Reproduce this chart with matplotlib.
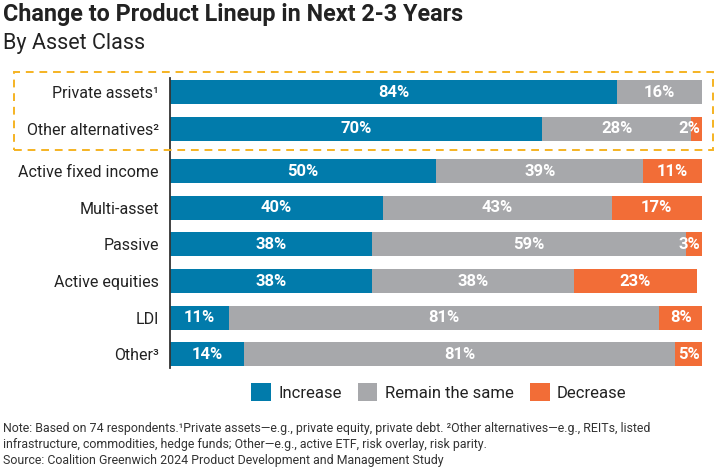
import matplotlib
matplotlib.use("Agg")
import matplotlib.pyplot as plt
from matplotlib.patches import Patch, Rectangle

plt.rcParams["font.family"] = ["Roboto", "DejaVu Sans"]

# data
categories = ["Private assets¹", "Other alternatives²", "Active fixed income",
              "Multi-asset", "Passive", "Active equities", "LDI", "Other³"]
increase = [84, 70, 50, 40, 38, 38, 11, 14]
remain = [16, 28, 39, 43, 59, 38, 81, 81]
decrease = [0, 2, 11, 17, 3, 23, 8, 5]
series_names = ["Increase", "Remain the same", "Decrease"]

BLUE = "#017bab"
GRAY = "#a7a8ab"
ORANGE = "#f26d37"
BOX = "#f5b323"

W, H = 720, 473
fig = plt.figure(figsize=(W / 100, H / 100), dpi=100)

# axes in pixel terms: x 0..100 -> 170..702, rows every 36.6px from y=92
row_px, first_px = 36.6, 92.0
ax_top, ax_bot = 78, 368
ax = fig.add_axes([170 / W, 1 - ax_bot / H, (702 - 170) / W, (ax_bot - ax_top) / H])

# top two rows (the boxed group) sit a little apart from the rest
gap = 6.0 / row_px
ypos = [i if i < 2 else i + gap for i in range(len(categories))]

bar_h = 24 / row_px
colors = [BLUE, GRAY, ORANGE]
totals = [a + b + c for a, b, c in zip(increase, remain, decrease)]
lefts = [0] * len(categories)
for name, vals, col in zip(series_names, [increase, remain, decrease], colors):
    ax.barh(ypos, vals, left=lefts, height=bar_h, color=col, label=name,
            edgecolor="none")
    for y, v, l, tot in zip(ypos, vals, lefts, totals):
        if v <= 0:
            continue
        cx = l + v / 2
        if cx + 2.2 > tot:
            # small end segment: keep the label inside the bar
            ax.text(tot - 0.3, y, f"{v}%", ha="right", va="center",
                    color="white", fontsize=12, fontweight="bold")
        else:
            ax.text(cx, y, f"{v}%", ha="center", va="center",
                    color="white", fontsize=12, fontweight="bold")
    lefts = [a + b for a, b in zip(lefts, vals)]

ax.set_xlim(0, 100)
ax.set_ylim((ax_bot - first_px) / row_px, (ax_top - first_px) / row_px)
ax.set_yticks(ypos)
ax.set_yticklabels(categories, fontsize=11.5, color="#222222")
ax.tick_params(axis="y", length=0, pad=8)
ax.set_xticks([])
for s in ["top", "right", "bottom"]:
    ax.spines[s].set_visible(False)
ax.spines["left"].set_color("#333333")
ax.spines["left"].set_linewidth(1.3)

# dashed highlight box around the first two rows
box = Rectangle((14 / W, 1 - 149.5 / H), (713 - 14) / W, (149.5 - 71.5) / H,
                transform=fig.transFigure, fill=False, edgecolor=BOX,
                linewidth=1.4, linestyle=(0, (4, 3)))
fig.add_artist(box)

# legend
handles = [Patch(facecolor=c, edgecolor="none") for c in colors]
fig.legend(handles, series_names, loc="center", bbox_to_anchor=(439 / W, 1 - 392 / H),
           ncol=3, frameon=False, fontsize=12, handlelength=1.15, handleheight=1.2,
           handletextpad=0.45, columnspacing=1.0, labelcolor="#222222")

# titles
fig.text(3 / W, 1 - 3 / H, "Change to Product Lineup in Next 2-3 Years",
         ha="left", va="top", fontsize=16.8, fontweight="bold", color="#222222")
fig.text(3 / W, 1 - 33 / H, "By Asset Class", ha="left", va="top",
         fontsize=15.5, color="#222222")

# notes
notes = [
    "Note: Based on 74 respondents.¹Private assets—e.g., private equity, private debt. ²Other alternatives—e.g., REITs, listed",
    "infrastructure, commodities, hedge funds; Other—e.g., active ETF, risk overlay, risk parity.",
    "Source: Coalition Greenwich 2024 Product Development and Management Study",
]
for i, line in enumerate(notes):
    fig.text(3 / W, 1 - (428 + 16 * i) / H, line, ha="left", va="center",
             fontsize=8.9, color="#333333")

fig.savefig("out.png", dpi=100)
